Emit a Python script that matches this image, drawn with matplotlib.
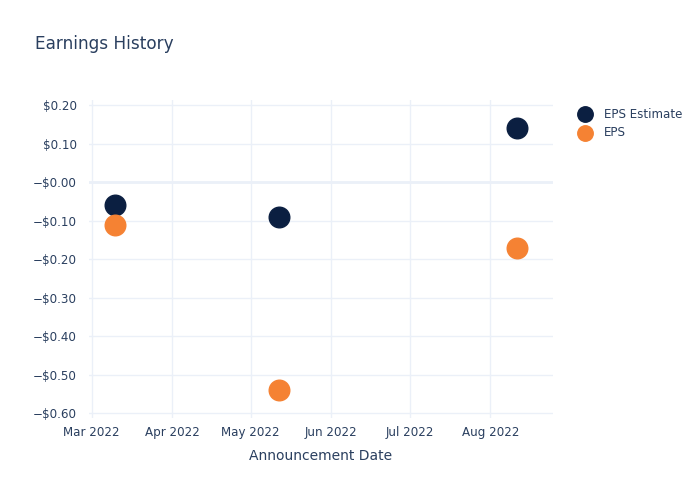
import matplotlib.pyplot as plt
import matplotlib.dates as mdates
import matplotlib.ticker as mticker
import pandas as pd

# Adatok
dates = pd.to_datetime(["2022-03-10", "2022-05-12", "2022-08-11"])
eps_estimate = [-0.06, -0.09, 0.14]
eps_actual = [-0.11, -0.54, -0.17]
y_ticks = [0.20, 0.10, 0.00, -0.10, -0.20, -0.30, -0.40, -0.50, -0.60]

text_color = "#2a3f5f"
grid_color = "#EBF0F8"

fig = plt.figure(figsize=(7, 5), dpi=100)
ax = fig.add_axes([89 / 700, 1 - 418 / 500, (553 - 89) / 700, (418 - 100) / 500])

ax.scatter(dates, eps_estimate, s=220, color="#0B1F41", label="EPS Estimate", zorder=3)
ax.scatter(dates, eps_actual, s=220, color="#F58233", label="EPS", zorder=3)

# Tengelyek
ax.set_xlim(pd.Timestamp("2022-02-28"), pd.Timestamp("2022-08-25"))
ax.set_ylim(-0.612, 0.213)
ax.xaxis.set_major_locator(mdates.MonthLocator())
ax.xaxis.set_major_formatter(mdates.DateFormatter("%b %Y"))
ax.set_yticks(y_ticks)
ax.yaxis.set_major_formatter(mticker.FuncFormatter(
    lambda v, p: ("\u2212$%.2f" % abs(v)) if v <= 0.001 else "$%.2f" % v))

ax.grid(True, color=grid_color, linewidth=1)
ax.axhline(0, color=grid_color, linewidth=2, zorder=1)
ax.set_axisbelow(True)
for s in ax.spines.values():
    s.set_visible(False)
ax.tick_params(axis="y", length=0, labelsize=8.6, labelcolor=text_color, pad=9)
ax.tick_params(axis="x", length=0, labelsize=8.6, labelcolor=text_color, pad=6)

ax.set_xlabel("Announcement Date", fontsize=10, color=text_color, labelpad=7)
fig.text(35 / 700, 1 - 44 / 500, "Earnings History", fontsize=12.2, color=text_color, va="center")

ax.legend(loc="upper left", bbox_to_anchor=(1.02, 1.01), frameon=False,
          fontsize=8.6, labelcolor=text_color, handletextpad=0.6, labelspacing=0.45,
          markerscale=0.75)

plt.savefig("out.png", dpi=100)
